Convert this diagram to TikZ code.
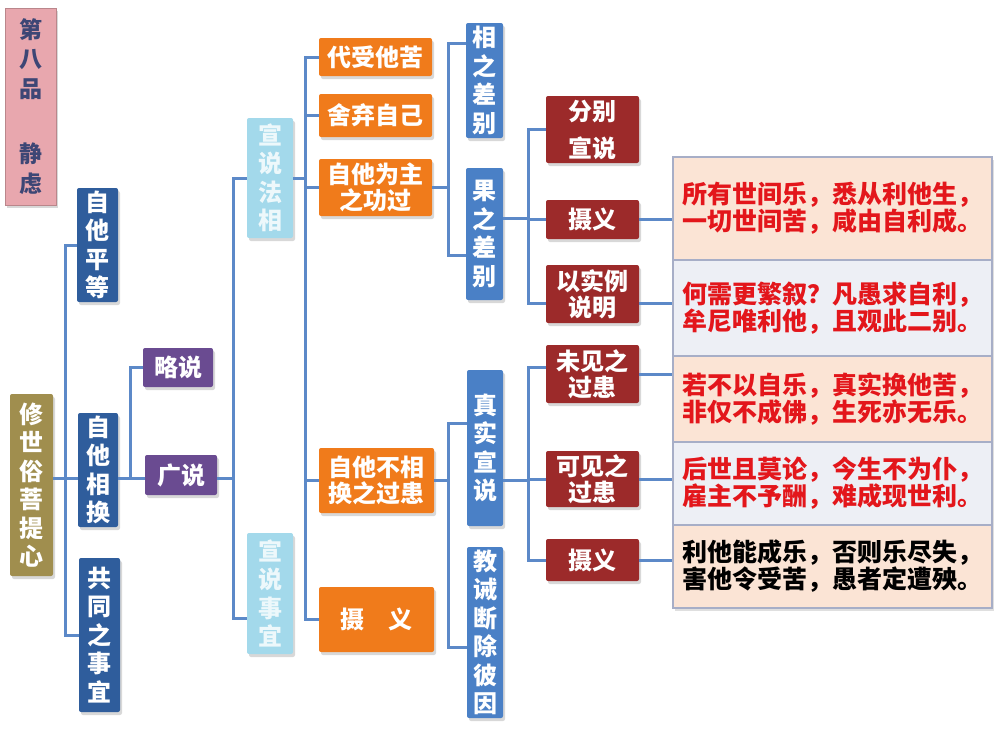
\documentclass[tikz,border=0pt]{standalone}
\usepackage{fontspec}
\setmainfont{Noto Sans CJK SC}
\usetikzlibrary{shadows}
\definecolor{pinkc}{HTML}{E8A7AE}
\definecolor{pinktext}{HTML}{3D4675}
\definecolor{olivec}{HTML}{A08E4E}
\definecolor{navyc}{HTML}{2F5D9C}
\definecolor{purplec}{HTML}{6A4B91}
\definecolor{skyc}{HTML}{A3D9EB}
\definecolor{skytext}{HTML}{EDF8FB}
\definecolor{orangec}{HTML}{F07B1B}
\definecolor{bluec}{HTML}{4A80C6}
\definecolor{redc}{HTML}{9C2A2A}
\definecolor{linkc}{HTML}{5C89C8}
\definecolor{peachc}{HTML}{FBE4D5}
\definecolor{greyc}{HTML}{EDEFF5}
\definecolor{rimc}{HTML}{A7AEC7}
\definecolor{textred}{HTML}{E3161B}
\tikzset{
  box/.style={rounded corners=2pt, inner sep=0pt, align=center, text=white,
    font=\fontsize{24}{28.5}\selectfont\bfseries,
    drop shadow={shadow xshift=2pt, shadow yshift=-3pt, opacity=.3}},
  two/.style={font=\fontsize{24}{26}\selectfont\bfseries},
  sz/.style 2 args={minimum width=#1pt, minimum height=#2pt},
  link/.style={draw=linkc, line width=3pt},
  verse/.style={draw=rimc, line width=1.5pt, inner sep=0pt, align=center,
    minimum width=319pt, text width=310pt, text=textred,
    font=\fontsize{25}{27}\selectfont\bfseries,
    drop shadow={shadow xshift=2pt, shadow yshift=-3pt, opacity=.25}}
}
\begin{document}
\begin{tikzpicture}[x=1pt,y=-1pt]
\fill[white] (0,0) rectangle (1000,753);
\useasboundingbox (0,0) rectangle (1000,753);

\node[box, sz={51}{197}, fill=pinkc, draw=pinkc!80!black, rounded corners=0pt, text=pinktext, font=\fontsize{23}{29.5}\selectfont\bfseries] (jbp) at (30.5,106.5) {第\\八\\品\\[36pt]静\\虑};
\node[box, sz={43}{182}, fill=olivec] (xss) at (31.5,485) {修\\世\\俗\\菩\\提\\心};

\node[box, sz={41}{114}, fill=navyc] (zhpd) at (97.5,245) {自\\他\\平\\等};
\node[box, sz={40}{114}, fill=navyc] (zhxh) at (98,470) {自\\他\\相\\换};
\node[box, sz={41}{154}, fill=navyc] (gtsy) at (99.5,635) {共\\同\\之\\事\\宜};

\node[box, sz={70}{39}, fill=purplec] (lue) at (178,367.5) {略说};
\node[box, sz={72}{40}, fill=purplec] (guang) at (181,475) {广说};

\node[box, sz={46}{120}, fill=skyc, text=skytext] (xsfx) at (270,178) {宣\\说\\法\\相};
\node[box, sz={46}{121}, fill=skyc, text=skytext] (xssy) at (270,593.5) {宣\\说\\事\\宜};

\node[box, two, sz={113}{38}, fill=orangec] (o1) at (375.5,57) {代受他苦};
\node[box, two, sz={113}{43}, fill=orangec] (o2) at (375.5,115.5) {舍弃自己};
\node[box, two, sz={113}{57}, fill=orangec] (o3) at (375.5,187.5) {自他为主\\之功过};
\node[box, two, sz={115}{65}, fill=orangec] (o4) at (376.5,480.5) {自他不相\\换之过患};
\node[box, two, sz={115}{65}, fill=orangec] (o5) at (376.5,619.5) {摄　义};

\node[box, sz={37}{115}, fill=bluec] (xzb) at (484.5,80.5) {相\\之\\差\\别};
\node[box, sz={37}{132}, fill=bluec] (gzb) at (484.5,234) {果\\之\\差\\别};
\node[box, sz={36}{156}, fill=bluec] (zssh) at (485,448) {真\\实\\宣\\说};
\node[box, sz={36}{171}, fill=bluec] (jjdc) at (485,632.5) {教\\诫\\断\\除\\彼\\因};

\node[box, two, sz={93}{67}, fill=redc] (r1) at (592.5,129.5) {分别\\[11pt]宣说};
\node[box, two, sz={93}{39}, fill=redc] (r2) at (592.5,219.5) {摄义};
\node[box, two, sz={93}{58}, fill=redc] (r3) at (592.5,294) {以实例\\说明};
\node[box, two, sz={93}{58}, fill=redc] (r4) at (592.5,374) {未见之\\过患};
\node[box, two, sz={93}{56}, fill=redc] (r5) at (592.5,479) {可见之\\过患};
\node[box, two, sz={93}{42}, fill=redc] (r6) at (592.5,560) {摄义};

\node[verse, fill=peachc, minimum height=103pt] (t1) at (832.5,208.5) {所有世间乐，悉从利他生，\\一切世间苦，咸由自利成。};
\node[verse, fill=greyc, minimum height=96pt] (t2) at (832.5,308) {何需更繁叙？凡愚求自利，\\牟尼唯利他，且观此二别。};
\node[verse, fill=peachc, minimum height=86pt] (t3) at (832.5,399) {若不以自乐，真实换他苦，\\非仅不成佛，生死亦无乐。};
\node[verse, fill=greyc, minimum height=83pt] (t4) at (832.5,483.5) {后世且莫论，今生不为仆，\\雇主不予酬，难成现世利。};
\node[verse, fill=peachc, minimum height=83pt, text=black] (t5) at (832.5,566.5) {利他能成乐，否则乐尽失，\\害他令受苦，愚者定遭殃。};

\coordinate (b0) at ([xshift=12pt,yshift=7pt]xss.east);
\draw[link] (xss.east |- b0) -- (b0);
\draw[link] (zhpd.west) -| (b0);
\draw[link] ([yshift=-8pt]zhxh.west) -| (b0);
\draw[link] (gtsy.west) -| (b0);

\coordinate (b1) at ([xshift=12pt,yshift=-8pt]zhxh.east);
\draw[link] ([yshift=-8pt]zhxh.east) -- (b1);
\draw[link] (lue.west) -| (b1);
\draw[link] ([yshift=-3pt]guang.west) -| (b1);

\coordinate (b2) at ([xshift=16pt,yshift=-3pt]guang.east);
\draw[link] ([yshift=-3pt]guang.east) -- (b2);
\draw[link] (xsfx.west) -| (b2);
\draw[link] ([yshift=-25pt]xssy.west) -| (b2);

\coordinate (b3) at ([xshift=12pt]xsfx.east);
\draw[link] (xsfx.east) -- (b3);
\foreach \i in {1,...,5}
  \draw[link] (o\i.west) -| (b3);

\coordinate (b4) at ([xshift=16pt]o3.east);
\draw[link] (o3.east) -- (b4);
\draw[link] ([yshift=37pt]xzb.west) -| (b4);
\draw[link] ([yshift=-21pt]gzb.west) -| (b4);

\coordinate (b5) at ([xshift=25pt,yshift=16pt]gzb.east);
\draw[link] ([yshift=16pt]gzb.east) -- (b5);
\draw[link] (r1.west) -| (b5);
\draw[link] (r2.west) -| (b5);
\draw[link] ([yshift=-9pt]r3.west) -| (b5);

\coordinate (b6) at ([xshift=14pt]o4.east);
\draw[link] (o4.east) -- (b6);
\draw[link] ([yshift=25pt]zssh.west) -| (b6);
\draw[link] ([yshift=-15pt]jjdc.west) -| (b6);

\coordinate (b7) at ([xshift=25pt,yshift=-32pt]zssh.east);
\draw[link] ([yshift=-32pt]zssh.east) -- (b7);
\draw[link] ([yshift=7pt]r4.west) -| (b7);
\draw[link] (r5.west) -| (b7);
\draw[link] (r6.west) -| (b7);

\coordinate (r3e) at ([yshift=-9pt]r3.east);
\draw[link] (r2.east) -- (r2.east -| t1.west);
\draw[link] (r3e) -- (r3e -| t2.west);
\draw[link] (r4.east) -- (r4.east -| t3.west);
\draw[link] (r5.east) -- (r5.east -| t4.west);
\draw[link] (r6.east) -- (r6.east -| t5.west);
\end{tikzpicture}
\end{document}
